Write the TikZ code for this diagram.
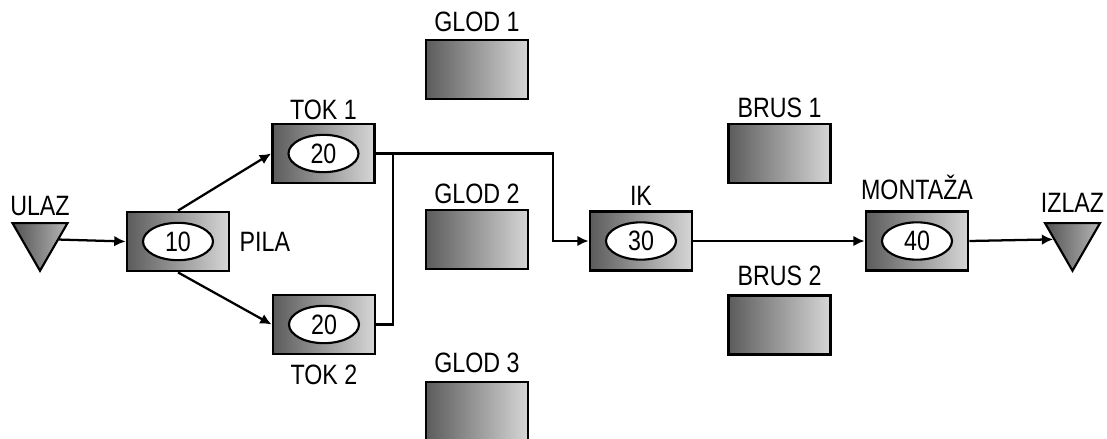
\documentclass[tikz,border=0pt]{standalone}
\usepackage{fontspec}
\setmainfont[FakeStretch=0.83]{Liberation Sans}
\usetikzlibrary{positioning,shapes.geometric,arrows.meta}
\definecolor{shadedark}{gray}{0.36}
\definecolor{shadelight}{gray}{0.84}
\tikzset{
  station/.style={draw,line width=2.1pt,minimum width=76.5pt,minimum height=44.25pt,
    left color=shadedark,right color=shadelight,inner sep=0pt},
  optime/.style={ellipse,draw,line width=1.6pt,fill=white,minimum width=52.5pt,
    minimum height=28pt,inner sep=0pt},
  portal/.style={regular polygon,regular polygon sides=3,shape border rotate=180,
    draw,line width=1.6pt,minimum size=47.6pt,inner sep=0pt,
    left color=shadedark!90!black,right color=shadelight!85!black},
  tag/.style={inner sep=0pt},
  flow/.style={line width=1.7pt,-{Latex[length=8.5pt,width=8pt]}},
  link/.style={line width=1.7pt}
}
\begin{document}
\begin{tikzpicture}[x=0.75pt,y=-0.75pt,font=\fontsize{21}{25}\selectfont]
    \useasboundingbox (0,0) rectangle (1107,439);

    % Entry and exit
    \node[portal] (ulaz) at (40,239) {};
    \node[tag,above=4.5pt of ulaz] (ulaz-tag) {ULAZ};
    \node[portal] (izlaz) at (1072.5,239) {};
    \node[tag,above=6.75pt of izlaz] (izlaz-tag) {IZLAZ};

    % Working stations
    \node[station] (pila) at (178,241.5) {};
    \node[optime] (pila-op) at (pila) {10};
    \node[tag,right=6.75pt of pila] (pila-tag) {PILA};

    \node[station] (tok1) at (323.5,153.5) {};
    \node[optime] (tok1-op) at (tok1) {20};
    \node[tag,above=2.25pt of tok1] (tok1-tag) {TOK 1};

    \node[station] (tok2) at (324,324.5) {};
    \node[optime] (tok2-op) at (tok2) {20};
    \node[tag,below=6.75pt of tok2] (tok2-tag) {TOK 2};

    \node[station] (ik) at (641,241) {};
    \node[optime] (ik-op) at (ik) {30};
    \node[tag,above=3pt of ik] (ik-tag) {IK};

    \node[station] (mont) at (917,241) {};
    \node[optime] (mont-op) at (mont) {40};
    \node[tag,above=7.5pt of mont] (mont-tag) {MONTAŽA};

    % Idle machines
    \node[station] (glod1) at (477,69.5) {};
    \node[tag,above=5.25pt of glod1] (glod1-tag) {GLOD 1};
    \node[station] (glod2) at (477,239.5) {};
    \node[tag,above=3.75pt of glod2] (glod2-tag) {GLOD 2};
    \node[station] (glod3) at (477,411.5) {};
    \node[tag,above=6pt of glod3] (glod3-tag) {GLOD 3};
    \node[station] (brus1) at (779.5,153.5) {};
    \node[tag,above=3.75pt of brus1] (brus1-tag) {BRUS 1};
    \node[station] (brus2) at (779.5,325) {};
    \node[tag,above=6pt of brus2] (brus2-tag) {BRUS 2};

    % Flow
    \coordinate (merge) at (393,153.5);
    \coordinate (bend) at (553,153.5);
    \draw[flow] (ulaz) -- (pila.west);
    \draw[flow] (pila.north) -- (tok1.west);
    \draw[flow] (pila.south) -- (tok2.west);
    \draw[link] (tok2.east) -| (merge);
    \draw[flow] (tok1.east) -- (bend) |- (ik.west);
    \draw[flow] (ik.east) -- (mont.west);
    \draw[flow] (mont.east) -- (izlaz);
\end{tikzpicture}
\end{document}
